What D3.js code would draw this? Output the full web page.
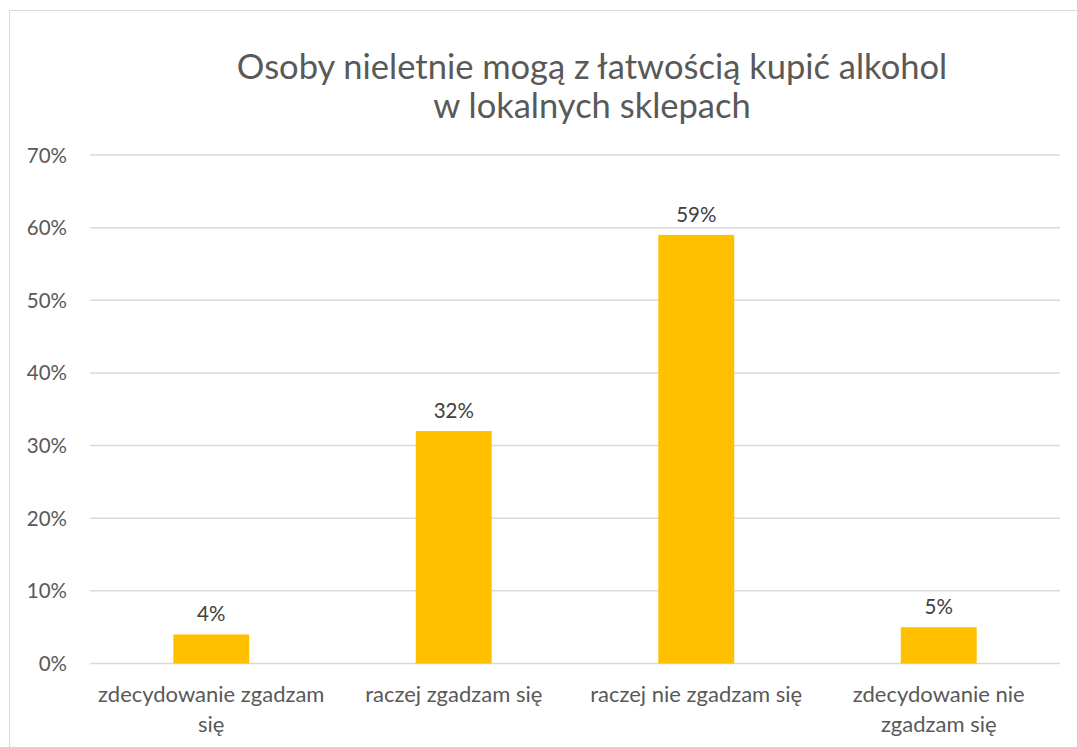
<!DOCTYPE html>
<html>
<head>
<meta charset="UTF-8" />
<script src="https://d3js.org/d3.v7.min.js"></script>
<style>
body { margin: 0px; background: #fff; }
text { font-family: Lato, "Open Sans", sans-serif; fill: #595959; }
</style>
</head>
<body>
<svg id="chart" width="1077" height="747"></svg>
<script>
const categories = [
    ["zdecydowanie zgadzam", "się"],
    ["raczej zgadzam się"],
    ["raczej nie zgadzam się"],
    ["zdecydowanie nie", "zgadzam się"]
];
const values = [4, 32, 59, 5];
const yTicks = [0, 10, 20, 30, 40, 50, 60, 70];
const titleLines = ["Osoby nieletnie mogą z łatwością kupić alkohol", "w lokalnych sklepach"];

let svg = d3.select("#chart");

// chart frame
svg.append("rect")
    .attr("x", 9.5).attr("y", 10.5)
    .attr("width", 1080).attr("height", 760)
    .attr("fill", "none")
    .attr("stroke", "#d9d9d9");

let margin = {left: 90, right: 1060, top: 155, bottom: 663.5};

let x = d3.scaleBand()
    .domain(d3.range(categories.length))
    .range([margin.left, margin.right])
    .paddingInner(0.687)
    .paddingOuter(0.3435);

let y = d3.scaleLinear()
    .domain([0, 70])
    .range([margin.bottom, margin.top]);

// gridlines
svg.append("g")
    .selectAll("line")
    .data(yTicks)
    .join("line")
    .attr("x1", margin.left).attr("x2", margin.right)
    .attr("y1", d => y(d)).attr("y2", d => y(d))
    .attr("stroke", "#d9d9d9")
    .attr("stroke-width", 1.5);

// y labels
svg.append("g")
    .selectAll("text")
    .data(yTicks)
    .join("text")
    .attr("x", 67)
    .attr("y", d => y(d) + 7.5)
    .attr("text-anchor", "end")
    .attr("font-size", 20.5)
    .text(d => d + "%");

// bars
svg.append("g")
    .selectAll("rect")
    .data(values)
    .join("rect")
    .attr("x", (d, i) => x(i))
    .attr("width", x.bandwidth())
    .attr("y", d => y(d))
    .attr("height", d => y(0) - y(d))
    .attr("fill", "#ffc000");

// value labels
svg.append("g")
    .selectAll("text")
    .data(values)
    .join("text")
    .attr("x", (d, i) => x(i) + x.bandwidth() / 2)
    .attr("y", d => y(d) - 13)
    .attr("text-anchor", "middle")
    .attr("font-size", 20.5)
    .style("fill", "#404040")
    .text(d => d + "%");

// category labels
let cat = svg.append("g")
    .selectAll("text")
    .data(categories)
    .join("text")
    .attr("text-anchor", "middle")
    .attr("font-size", 22)
    .attr("x", (d, i) => x(i) + x.bandwidth() / 2)
    .attr("y", 702);
cat.selectAll("tspan")
    .data(d => d)
    .join("tspan")
    .attr("x", function() { return d3.select(this.parentNode).attr("x"); })
    .attr("dy", (d, i) => i === 0 ? 0 : 30)
    .text(d => d);

// title
svg.append("text")
    .attr("text-anchor", "middle")
    .attr("font-size", 34.5)
    .selectAll("tspan")
    .data(titleLines)
    .join("tspan")
    .attr("x", 592)
    .attr("y", (d, i) => 79 + i * 39)
    .text(d => d);
</script>
</body>
</html>
